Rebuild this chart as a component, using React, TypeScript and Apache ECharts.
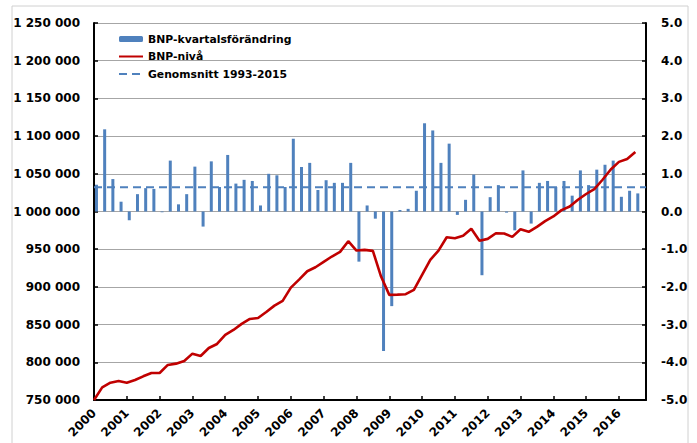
import React, { useEffect, useRef } from "react";
import * as echarts from "echarts";

const yearLabels = ["2000","2001","2002","2003","2004","2005","2006","2007","2008","2009","2010","2011","2012","2013","2014","2015","2016"];

const quarterlyChange = [
  0.71, 2.18, 0.86, 0.26, -0.23, 0.46, 0.62, 0.60, -0.02, 1.35,
  0.19, 0.46, 1.19, -0.40, 1.33, 0.65, 1.50, 0.74, 0.84, 0.81,
  0.16, 1.00, 0.96, 0.65, 1.93, 1.18, 1.29, 0.57, 0.83, 0.76,
  0.76, 1.29, -1.33, 0.16, -0.19, -3.70, -2.51, 0.04, 0.07, 0.55,
  2.34, 2.15, 1.29, 1.80, -0.09, 0.31, 0.98, -1.69, 0.38, 0.70,
  -0.03, -0.50, 1.09, -0.32, 0.76, 0.81, 0.65, 0.81, 0.42, 1.09,
  0.70, 1.11, 1.24, 1.35, 0.39, 0.55, 0.48
];

const gdpLevel = [
  750000, 766800, 773000, 775200, 773000, 776500, 781400, 785800, 785800, 796500,
  798200, 801800, 811500, 808400, 819000, 824300, 836300, 842900, 850900, 857500,
  858800, 866800, 875200, 881400, 899100, 909700, 920800, 926100, 933200, 940300,
  946500, 960600, 948200, 949100, 947800, 913700, 889400, 889800, 890300, 896000,
  915900, 935800, 948200, 965900, 964600, 967700, 977000, 961100, 963700, 971200,
  970800, 966400, 976500, 973000, 979600, 987200, 993400, 1001800, 1006600, 1015500,
  1023200, 1029800, 1042100, 1055700, 1065800, 1069700, 1079000
];

const averageGrowth = 0.64;

const seriesNames = ["BNP-kvartalsförändring", "BNP-nivå", "Genomsnitt 1993-2015"];

const X_MAX = 67.3;

export default function App() {
  const ref = useRef<HTMLDivElement>(null);
  useEffect(() => {
    const chart = echarts.init(ref.current!, null, { renderer: "svg" });
    const tickVals = yearLabels.map((_, i) => i * 4);
    const font = "DejaVu Sans";
    chart.setOption({
      animation: false,
      backgroundColor: "#ffffff",
      textStyle: { fontFamily: font },
      graphic: [
        {
          type: "rect",
          shape: { x: 12, y: 6, width: 676, height: 460 },
          style: { fill: "none", stroke: "#d0d0d0", lineWidth: 1 },
          silent: true,
        },
      ],
      grid: { left: 94, right: 51, top: 23, bottom: 43, containLabel: false },
      legend: {
        orient: "vertical",
        left: 113,
        top: 27,
        itemWidth: 24,
        itemHeight: 6,
        itemGap: 3.5,
        data: [
          { name: seriesNames[0] },
          { name: seriesNames[1], itemStyle: { opacity: 0 } },
          { name: seriesNames[2], itemStyle: { opacity: 0 } },
        ],
        textStyle: { fontFamily: font, fontSize: 10.8, fontWeight: "bold", color: "#000", lineHeight: 14 },
      },
      xAxis: {
        type: "value",
        min: 0,
        max: X_MAX,
        interval: 4,
        splitLine: { show: false },
        axisLine: { show: true, onZero: false, lineStyle: { color: "#000", width: 2 } },
        axisTick: { show: true, customValues: tickVals, length: 4, inside: true, lineStyle: { color: "#000", width: 1.5 } },
        axisLabel: {
          customValues: tickVals,
          rotate: 45,
          margin: 11,
          fontFamily: font,
          fontSize: 12,
          fontWeight: "bold",
          color: "#000",
          formatter: (v: number) => (Math.abs(v % 4) < 1e-6 ? yearLabels[Math.round(v / 4)] ?? "" : ""),
        },
      },
      yAxis: [
        {
          type: "value",
          position: "left",
          min: 750000,
          max: 1250000,
          interval: 50000,
          axisLine: { show: true, lineStyle: { color: "#000", width: 2 } },
          axisTick: { show: true, inside: true, length: 4, lineStyle: { color: "#000", width: 1.5 } },
          splitLine: { show: true, lineStyle: { color: "#a6a6a6", width: 1 } },
          axisLabel: {
            margin: 14,
            fontFamily: font,
            fontSize: 12,
            fontWeight: "bold",
            color: "#000",
            formatter: (v: number) => String(Math.round(v)).replace(/\B(?=(\d{3})+(?!\d))/g, " "),
          },
        },
        {
          type: "value",
          position: "right",
          min: -5,
          max: 5,
          interval: 1,
          axisLine: { show: true, lineStyle: { color: "#000", width: 2 } },
          axisTick: { show: true, inside: true, length: 4, lineStyle: { color: "#000", width: 1.5 } },
          splitLine: { show: false },
          axisLabel: {
            margin: 15,
            fontFamily: font,
            fontSize: 12,
            fontWeight: "bold",
            color: "#000",
            formatter: (v: number) => v.toFixed(1),
          },
        },
      ],
      series: [
        {
          name: seriesNames[0],
          type: "bar",
          yAxisIndex: 1,
          barWidth: 3,
          z: 2,
          itemStyle: { color: "#4f81bd" },
          data: quarterlyChange.map((v, i) => [i + 0.3, v]),
        },
        {
          name: seriesNames[1],
          type: "line",
          yAxisIndex: 0,
          z: 4,
          symbol: "none",
          lineStyle: { color: "#c00000", width: 2.6 },
          itemStyle: { color: "#c00000" },
          data: gdpLevel.map((v, i) => [i, v]),
        },
        {
          name: seriesNames[2],
          type: "line",
          yAxisIndex: 1,
          z: 3,
          symbol: "none",
          lineStyle: { color: "#4f81bd", width: 2, type: [8, 5] },
          itemStyle: { color: "#4f81bd" },
          data: [[0, averageGrowth], [X_MAX, averageGrowth]],
        },
      ],
    });
    return () => chart.dispose();
  }, []);
  return (
    <div
      ref={ref}
      style={{ position: "absolute", left: 0, top: 0, width: 697, height: 443 }}
    />
  );
}
